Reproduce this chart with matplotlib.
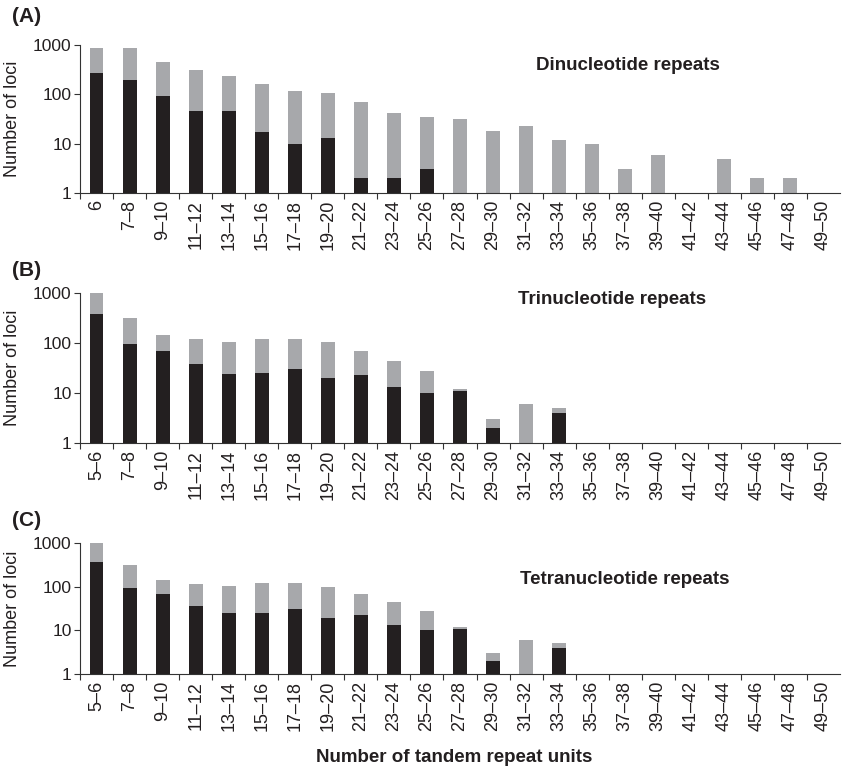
import numpy as np
import matplotlib
matplotlib.use("Agg")
import matplotlib.pyplot as plt

plt.rcParams['font.family'] = ['Liberation Sans', 'DejaVu Sans']

# categories
cats_di = ["6", "7\u20138"] + ["%d\u2013%d" % (a, a + 1) for a in range(9, 50, 2)]
cats_tri = ["%d\u2013%d" % (a, a + 1) for a in range(5, 50, 2)]

# dinucleotide: total loci (grey) and subset (black)
di_total = [853, 853, 444, 310, 234, 161, 116, 106, 70, 42, 34, 31, 18, 23, 12, 10, 3, 6, 0, 5, 2, 2, 0]
di_black = [265, 194, 92, 46, 46, 17, 10, 13, 2, 2, 3, 0, 0, 0, 0, 0, 0, 0, 0, 0, 0, 0, 0]

# trinucleotide
tri_total = [1000, 313, 143, 119, 104, 119, 119, 104, 69, 44, 28, 12, 3, 6, 5, 0, 0, 0, 0, 0, 0, 0, 0]
tri_black = [376, 95, 69, 38, 24, 25, 30, 20, 23, 13, 10, 11, 2, 0, 4, 0, 0, 0, 0, 0, 0, 0, 0]

# tetranucleotide
tetra_total = [1000, 318, 144, 116, 105, 123, 123, 99, 69, 45, 28, 12, 3, 6, 5, 0, 0, 0, 0, 0, 0, 0, 0]
tetra_black = [372, 94, 69, 36, 25, 25, 31, 19, 23, 13, 10, 11, 2, 0, 4, 0, 0, 0, 0, 0, 0, 0, 0]

GREY = "#a7a8ab"
BLACK = "#231f20"

fig = plt.figure(figsize=(8.44, 7.71), dpi=100)

W = 844.0
H = 771.0


def make_axes(top, bottom):
    return fig.add_axes([80 / W, 1 - bottom / H, 760 / W, (bottom - top) / H])


panels = [
    ("(A)", "Dinucleotide repeats", cats_di, di_total, di_black, 45, 193, 17, 65, 628),
    ("(B)", "Trinucleotide repeats", cats_tri, tri_total, tri_black, 293, 443, 271, 300, 612),
    ("(C)", "Tetranucleotide repeats", cats_tri, tetra_total, tetra_black, 543, 674, 520, 580, 625),
]

for letter, title, cats, total, black, top, bottom, ly, ty, tx in panels:
    ax = make_axes(top, bottom)
    x = np.arange(len(cats))
    tot = np.array(total, dtype=float)
    blk = np.array(black, dtype=float)
    tot[tot <= 0] = np.nan
    blk[blk <= 0] = np.nan
    ax.bar(x, tot, width=0.42, color=GREY)
    ax.bar(x, blk, width=0.42, color=BLACK)
    ax.set_yscale("log")
    ax.set_ylim(1, 1000)
    ax.set_xlim(-0.5, len(cats) - 0.5)
    ax.set_yticks([1, 10, 100, 1000])
    ax.set_yticklabels(["1", "10", "100", "1000"], fontsize=12.5, color="#231f20")
    ax.minorticks_off()
    ax.set_xticks(x - 0.5, minor=False)
    ax.set_xticklabels([""] * len(cats))
    ax.set_xticks(x, minor=True)
    ax.set_xticklabels(cats, minor=True, rotation=90, fontsize=13, color="#231f20")
    ax.tick_params(axis="x", which="minor", length=0, pad=5)
    ax.tick_params(axis="x", which="major", length=4, direction="out", color="#333333")
    ax.tick_params(axis="y", length=4, direction="out", color="#333333", pad=2)
    for s in ["top", "right"]:
        ax.spines[s].set_visible(False)
    ax.spines["left"].set_color("#333333")
    ax.spines["bottom"].set_color("#333333")
    ax.set_ylabel("Number of loci", fontsize=13, color="#231f20")
    ax.yaxis.set_label_coords(-59 / 760.0, 0.5)
    fig.text(12 / W, 1 - ly / H, letter, fontsize=15, fontweight="bold", va="center", ha="left",
             color="#231f20")
    fig.text(tx / W, 1 - ty / H, title, fontsize=13.5, fontweight="bold", va="center", ha="center",
             color="#231f20")

fig.text(454 / W, 1 - 758 / H, "Number of tandem repeat units", fontsize=13.5,
         fontweight="bold", ha="center", va="center", color="#231f20")

fig.savefig("out.png", dpi=100)
